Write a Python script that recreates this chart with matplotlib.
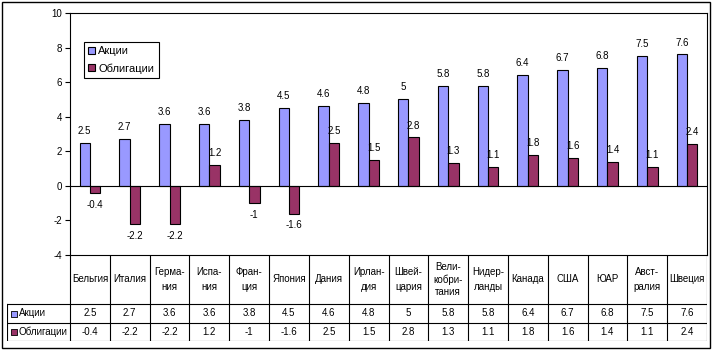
import matplotlib
matplotlib.use("Agg")
import matplotlib.pyplot as plt
from matplotlib.patches import Rectangle
import numpy as np

plt.rcParams['font.family'] = ['Liberation Sans', 'DejaVu Sans']
plt.rcParams['axes.unicode_minus'] = False

countries = ["Бельгия", "Италия", "Герма-\nния", "Испа-\nния", "Фран-\nция",
             "Япония", "Дания", "Ирлан-\nдия", "Швей-\nцария",
             "Вели-\nкобри-\nтания", "Нидер-\nланды", "Канада", "США", "ЮАР",
             "Авст-\nралия", "Швеция"]
stocks = [2.5, 2.7, 3.6, 3.6, 3.8, 4.5, 4.6, 4.8, 5, 5.8, 5.8, 6.4, 6.7, 6.8, 7.5, 7.6]
bonds = [-0.4, -2.2, -2.2, 1.2, -1, -1.6, 2.5, 1.5, 2.8, 1.3, 1.1, 1.8, 1.6, 1.4, 1.1, 2.4]
series_names = ["Акции", "Облигации"]
colors = ["#9999FF", "#993366"]

W, H = 712, 350


def box(l, t, r, b):
    return [l / W, 1 - b / H, (r - l) / W, (b - t) / H]


fig = plt.figure(figsize=(W / 100, H / 100), dpi=100)
fig.add_artist(Rectangle((1.5 / W, 2.5 / H), 708 / W, 346 / H, transform=fig.transFigure,
                         fill=False, edgecolor='black', lw=1))

n = len(countries)
x = np.arange(n)
bw = 0.26

ax = fig.add_axes(box(70, 13, 707, 255))
b1 = ax.bar(x - bw / 2, stocks, bw, color=colors[0], edgecolor='black', lw=0.8, label=series_names[0])
b2 = ax.bar(x + bw / 2, bonds, bw, color=colors[1], edgecolor='black', lw=0.8, label=series_names[1])
ax.set_xlim(-0.5, n - 0.5)
ax.set_ylim(-4, 10)
ax.axhline(0, color='black', lw=0.8)
ax.set_xticks([])
ax.set_yticks(range(-4, 11, 2))
ax.tick_params(axis='y', length=3.5, width=0.8, labelsize=7, pad=2)
for s in ax.spines.values():
    s.set_linewidth(0.8)

for series, off in ((stocks, -bw / 2), (bonds, bw / 2)):
    for xi, v in zip(x, series):
        ax.annotate(f"{v:g}", (xi + off, v), xytext=(0, 5 if v >= 0 else -5),
                    textcoords='offset points', ha='center',
                    va='bottom' if v >= 0 else 'top', fontsize=7)

leg = ax.legend(loc='upper left', bbox_to_anchor=(0.022, 0.88), fontsize=8,
                frameon=True, fancybox=False, edgecolor='black', framealpha=1,
                handlelength=0.6, handleheight=0.6, handletextpad=0.3,
                labelspacing=0.6, borderpad=0.4, borderaxespad=0)
leg.get_frame().set_linewidth(0.8)

# data table under the plot
cw = 637 / n
label_w = 63 / cw
tax = fig.add_axes(box(7, 255, 707, 341))
tax.set_xlim(-0.5 - label_w, n - 0.5)
tax.set_ylim(86, 0)
tax.axis('off')
head_b, row1_b = 49, 68
lw = 0.8
for i in range(n + 1):
    tax.plot([i - 0.5, i - 0.5], [0, 86], color='black', lw=lw)
for yy in (head_b, row1_b, 86):
    tax.plot([-0.5 - label_w, n - 0.5], [yy, yy], color='black', lw=lw)
tax.plot([-0.5 - label_w] * 2, [head_b, 86], color='black', lw=lw)

for xi, name in zip(x, countries):
    ls = 1.3 if name.count("\n") == 2 else 1.6
    tax.text(xi, head_b / 2, name, ha='center', va='center', fontsize=7, linespacing=ls)

rows = [(stocks, (head_b + row1_b) / 2), (bonds, (row1_b + 86) / 2)]
for (series, yc), name, c in zip(rows, series_names, colors):
    for xi, v in zip(x, series):
        tax.text(xi, yc, f"{v:g}", ha='center', va='center', fontsize=7)
    tax.scatter([-0.5 - label_w + 0.17], [yc], marker='s', s=16, color=c,
                edgecolor='black', lw=0.6, clip_on=False)
    tax.text(-0.5 - label_w + 0.3, yc, name, ha='left', va='center', fontsize=7)

fig.savefig("out.png", dpi=100)
